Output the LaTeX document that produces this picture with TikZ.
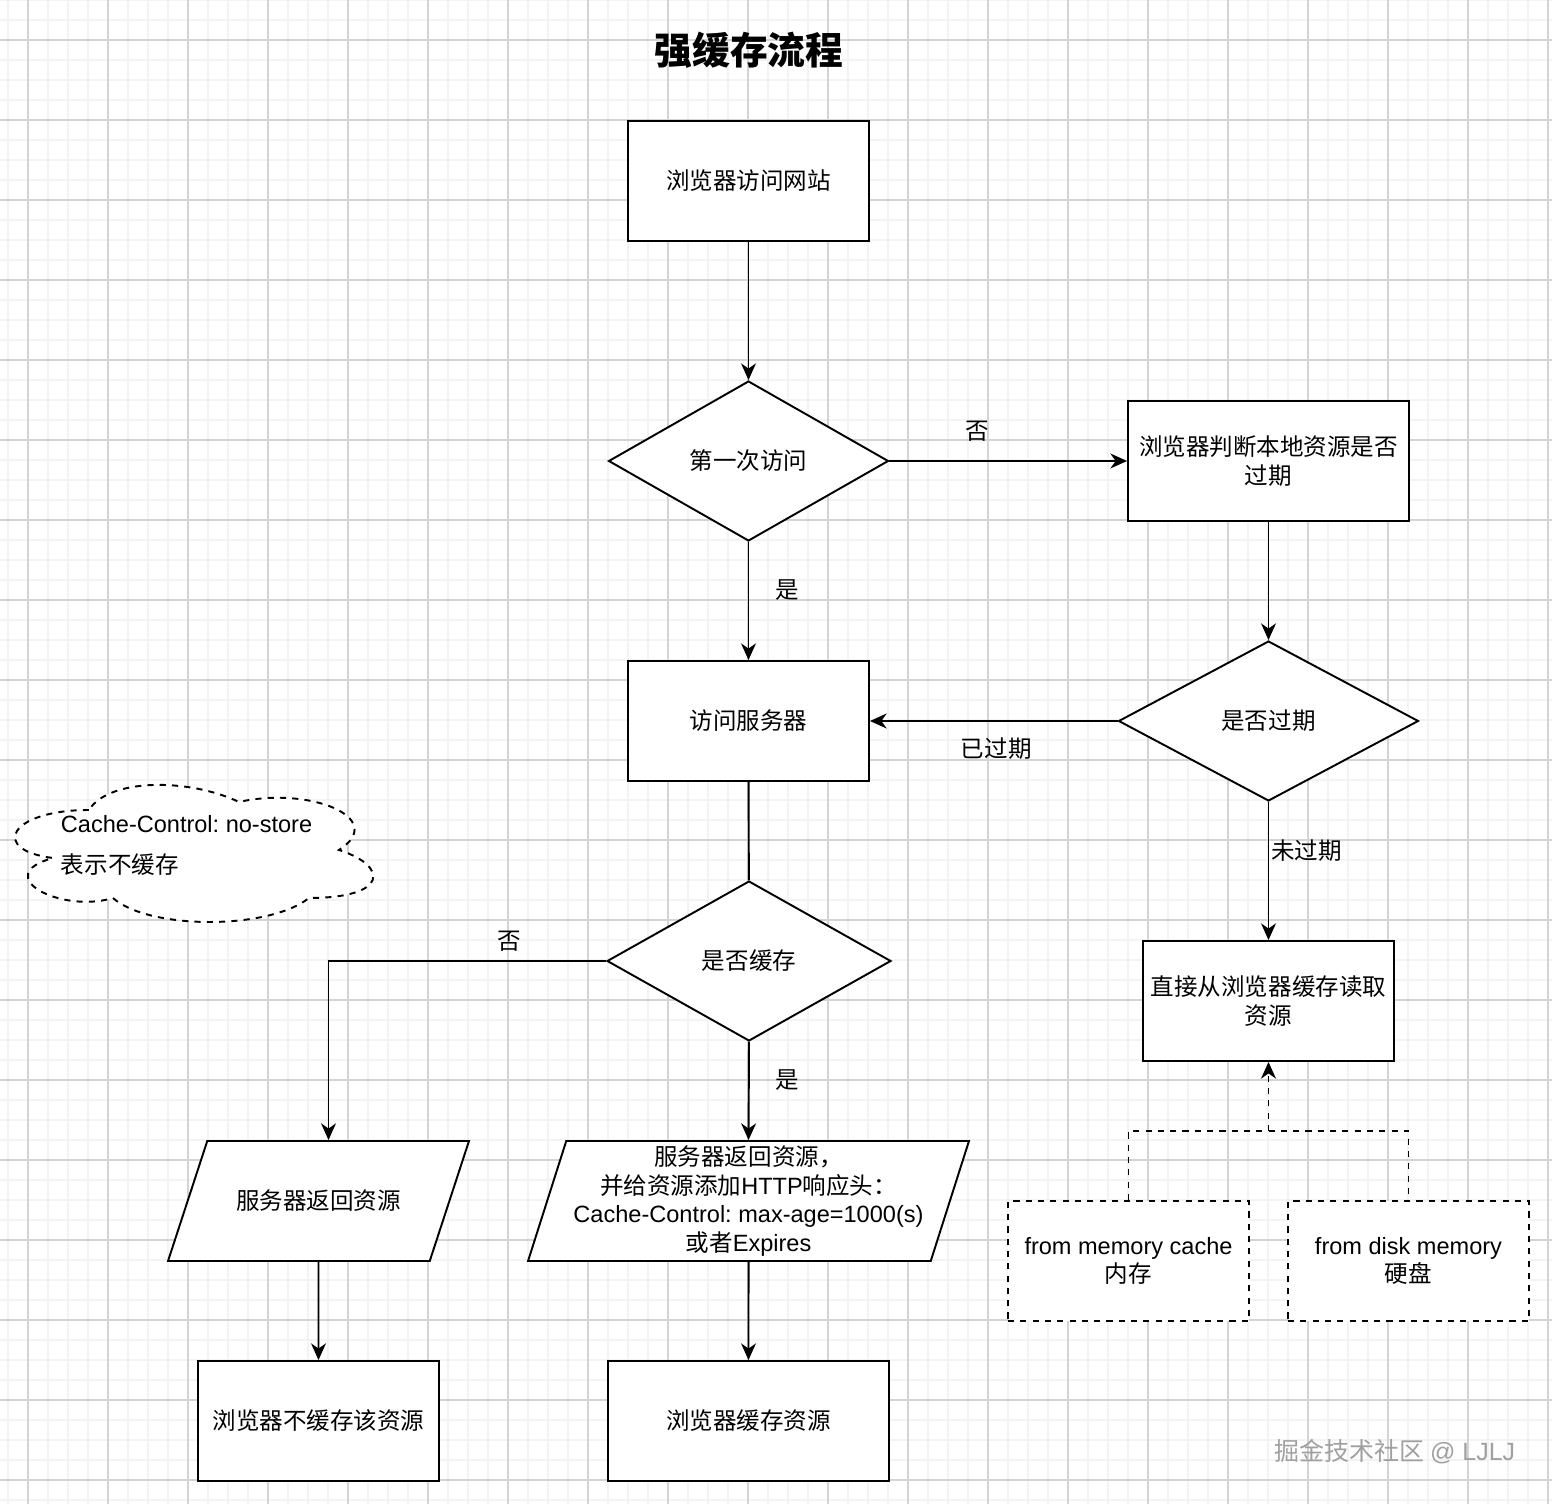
\documentclass[tikz,border=0pt]{standalone}
\usepackage{fontspec}
\setmainfont{Noto Sans CJK SC}
\newfontfamily\latin{Liberation Sans}
\usepackage{xcolor}
\usetikzlibrary{arrows.meta, shapes.geometric, positioning}
\definecolor{grid-major}{HTML}{D4D4D4}
\definecolor{grid-minor}{HTML}{F3F3F3}
\definecolor{mark-gray}{HTML}{A0A0A0}
\frenchspacing

\begin{document}
\begin{tikzpicture}[x=0.02cm, y=-0.02cm, line width=1.1pt,
      every node/.style={font=\fontsize{13.4pt}{16.4pt}\selectfont},
      flow/.style={-{Stealth[length=9.5pt, width=8.5pt, inset=3pt]}},
      dashes/.style={dash pattern=on 3.5pt off 3.5pt},
      box/.style={draw, fill=white, rectangle, minimum height=2.4cm,
        align=center, inner sep=2pt},
      dashbox/.style={box, dashes},
      decision/.style={draw, fill=white, diamond, aspect=1.75,
        inner sep=0pt, minimum height=3.2cm, align=center},
      io/.style={draw, fill=white, trapezium, trapezium left angle=71.57,
        trapezium right angle=108.43, trapezium stretches body,
        minimum height=2.4cm, inner xsep=1pt, align=center}]
    \useasboundingbox (0,0) rectangle (1552,1504);
    % grid paper
    \fill[white] (0,0) rectangle (1552,1504);
    \foreach \gx in {8,28,...,1548}
      \draw[grid-minor, line width=0.6pt] (\gx,0) -- (\gx,1504);
    \foreach \gy in {0,20,...,1500}
      \draw[grid-minor, line width=0.6pt] (0,\gy) -- (1552,\gy);
    \foreach \gx in {28,108,...,1548}
      \draw[grid-major, line width=0.6pt] (\gx,0) -- (\gx,1504);
    \foreach \gy in {40,120,...,1500}
      \draw[grid-major, line width=0.6pt] (0,\gy) -- (1552,\gy);

    \node[font=\fontsize{21.5pt}{26pt}\selectfont\bfseries]
          (title) at (749,50) {强缓存流程};

    \node[box, minimum width=4.82cm] (visit) at (748.5,181) {浏览器访问网站};
    \node[decision, minimum width=5.6cm] (first) at (748.5,461) {第一次访问};
    \node[box, minimum width=5.62cm] (judge) at (1268.5,461)
          {浏览器判断本地资源是否\\过期};
    \node[decision, minimum width=6.0cm] (expired) at (1268.5,721) {是否过期};
    \node[box, minimum width=4.82cm] (server) at (748.5,721) {访问服务器};
    \node[decision, minimum width=5.68cm] (cached) at (749,961) {是否缓存};
    \node[box, minimum width=5.02cm] (local) at (1268.5,1001)
          {直接从浏览器缓存读取\\资源};
    \node[io, minimum width=6.02cm, inner ysep=0.96cm] (retA) at (318.5,1201)
          {服务器返回资源};
    \node[io, minimum width=8.82cm, inner ysep=1pt] (retB) at (748.5,1201)
          {服务器返回资源，\\并给资源添加{\latin HTTP}响应头：\\
           {\latin Cache-Control: max-age=1000(s)}\\或者{\latin Expires}};
    \node[box, minimum width=4.82cm] (nostore) at (318.5,1421) {浏览器不缓存该资源};
    \node[box, minimum width=5.62cm] (store) at (748.5,1421) {浏览器缓存资源};
    \node[dashbox, minimum width=4.82cm] (mem) at (1128.5,1261)
          {{\latin from memory cache}\\内存};
    \node[dashbox, minimum width=4.82cm] (disk) at (1408.5,1261)
          {{\latin from disk memory}\\硬盘};

    % cloud note
    \begin{scope}[shift={(-11,770)}, x=8cm, y=-3.2cm]
      \draw[dashes, fill=white] (0.25,0.25)
        .. controls (0.05,0.25) and (0,0.5) .. (0.16,0.55)
        .. controls (0,0.66) and (0.18,0.9) .. (0.31,0.8)
        .. controls (0.4,1) and (0.7,1) .. (0.8,0.8)
        .. controls (1,0.8) and (1,0.6) .. (0.875,0.5)
        .. controls (1,0.3) and (0.8,0.1) .. (0.625,0.2)
        .. controls (0.5,0.05) and (0.3,0.05) .. (0.25,0.25) -- cycle;
    \end{scope}
    \node[anchor=west, inner sep=0pt, align=left] (note) at (60,845)
          {{\latin Cache-Control: no-store}\\[7pt]表示不缓存};

    \node[text=mark-gray, font=\fontsize{14.2pt}{17pt}\selectfont]
          (mark) at (1395,1452) {掘金技术社区 {\latin @ LJLJ}};

    \draw[flow] (visit) -- (first);
    \draw[flow] (first) -- node[pos=0.37, above=0.25cm] {否} (judge);
    \draw[flow] (first) -- node[pos=0.41, right=0.4cm] {是} (server);
    \draw[flow] (judge) -- (expired);
    \draw[flow] (expired) -- node[pos=0.49, below=0.2cm] {已过期} (server);
    \draw[flow] (expired) -- node[pos=0.35, right=0pt, inner sep=1pt] {未过期} (local);
    \draw (server) -- (cached);
    \coordinate (retA-in) at ([xshift=0.2cm]retA.north);
    \draw[flow] (cached.west) -- node[pos=0.35, above=0.05cm] {否}
          (cached.west -| retA-in) -- (retA-in);
    \draw[flow] (cached.south) -- node[pos=0.39, right=0.4cm] {是} (retB.north);
    \draw[flow] (retA) -- (nostore);
    \draw[flow] (retB) -- (store);

    \coordinate (merge) at (1268.5,1131);
    \draw[dashes] (mem.north) |- (merge) -| (disk.north);
    \draw[flow, dashes] (merge) -- (local.south);
  \end{tikzpicture}
\end{document}
